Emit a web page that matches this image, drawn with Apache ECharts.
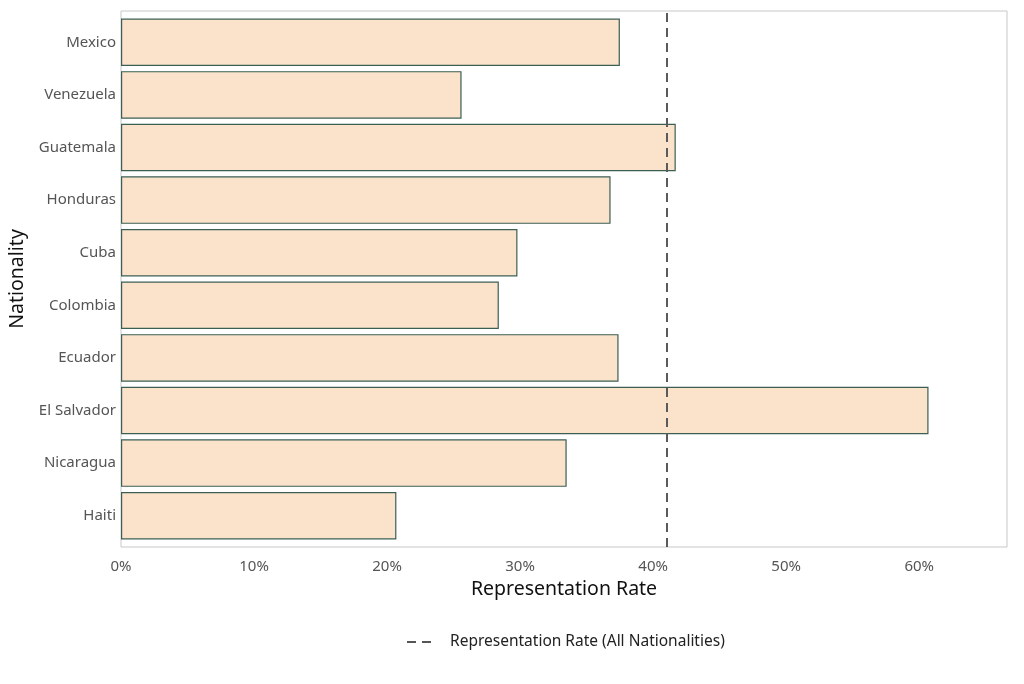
<!DOCTYPE html>
<html style="height: 100%">
<head>
<meta charset="utf-8">
</head>
<body style="height: 100%; margin: 0; background: #fff">
<div id="container" style="width: 1024px; height: 684px"></div>
<script src="https://cdn.jsdelivr.net/npm/echarts@6/dist/echarts.min.js"></script>
<script>
var nationalities = ['Mexico', 'Venezuela', 'Guatemala', 'Honduras', 'Cuba', 'Colombia', 'Ecuador', 'El Salvador', 'Nicaragua', 'Haiti'];
var repRate = [0.375, 0.256, 0.417, 0.368, 0.298, 0.284, 0.374, 0.607, 0.335, 0.207];
var overallRate = 0.4105;
var xTicks = [0, 0.1, 0.2, 0.3, 0.4, 0.5, 0.6];

var font = 'Noto Sans';
var chart = echarts.init(document.getElementById('container'));

var option = {
    animation: false,
    textStyle: {fontFamily: font},
    legend: {
        top: 629,
        left: 402,
        itemWidth: 24,
        itemHeight: 2,
        textStyle: {fontSize: 15.5, color: '#222', fontFamily: font, padding: [0, 0, 0, 14]},
        itemStyle: {color: '#555'},
        data: [{name: 'Representation Rate (All Nationalities)', icon: 'path://M0,0h9v2h-9zM15,0h9v2h-9z'}]
    },
    grid: [
        // panel frame
        {left: 121, right: 17, top: 11, bottom: 137, show: true, borderColor: '#c8c8c8', borderWidth: 1,
         containLabel: false, outerBoundsMode: 'none'},
        // bars
        {left: 121, right: 17, top: 16, bottom: 142, containLabel: false, outerBoundsMode: 'none'}
    ],
    xAxis: [
        {
            gridIndex: 0, type: 'value', min: 0, max: 0.666,
            show: false
        },
        {
            gridIndex: 1, type: 'value', min: 0, max: 0.666, interval: 0.1,
            name: 'Representation Rate', nameLocation: 'middle', nameGap: 37,
            nameTextStyle: {fontSize: 19.5, color: '#111', fontFamily: font},
            axisLine: {show: false}, axisTick: {show: false}, splitLine: {show: false},
            axisLabel: {
                showMaxLabel: false, fontSize: 15, color: '#555', margin: 17,
                formatter: function (v) {
                    for (var i = 0; i < xTicks.length; i++) {
                        if (Math.abs(v - xTicks[i]) < 1e-6) return Math.round(v * 100) + '%';
                    }
                    return '';
                }
            }
        }
    ],
    yAxis: [
        {gridIndex: 0, type: 'value', min: 0, max: 1, show: false},
        {
            gridIndex: 1, type: 'category', inverse: true, data: nationalities,
            name: 'Nationality', nameLocation: 'middle', nameGap: 92, nameRotate: 90,
            nameTextStyle: {fontSize: 19.5, color: '#111', fontFamily: font},
            axisLine: {show: false}, axisTick: {show: false}, splitLine: {show: false},
            axisLabel: {fontSize: 15, color: '#555', margin: 5}
        }
    ],
    series: [
        {
            name: 'Rate', type: 'bar', xAxisIndex: 1, yAxisIndex: 1,
            data: repRate, barCategoryGap: '9.7%',
            itemStyle: {color: '#fbe3cb', borderColor: '#3b5f53', borderWidth: 1.2},
            z: 2
        },
        {
            name: 'Representation Rate (All Nationalities)', type: 'line',
            xAxisIndex: 0, yAxisIndex: 0, data: [],
            symbol: 'none', color: '#555',
            lineStyle: {color: '#555', type: [8, 7], width: 2},
            markLine: {
                silent: true, symbol: 'none', label: {show: false},
                lineStyle: {color: '#5a5a5a', type: [9, 6], width: 2},
                data: [{xAxis: overallRate}]
            },
            z: 5
        }
    ]
};
chart.setOption(option);
</script>
</body>
</html>
